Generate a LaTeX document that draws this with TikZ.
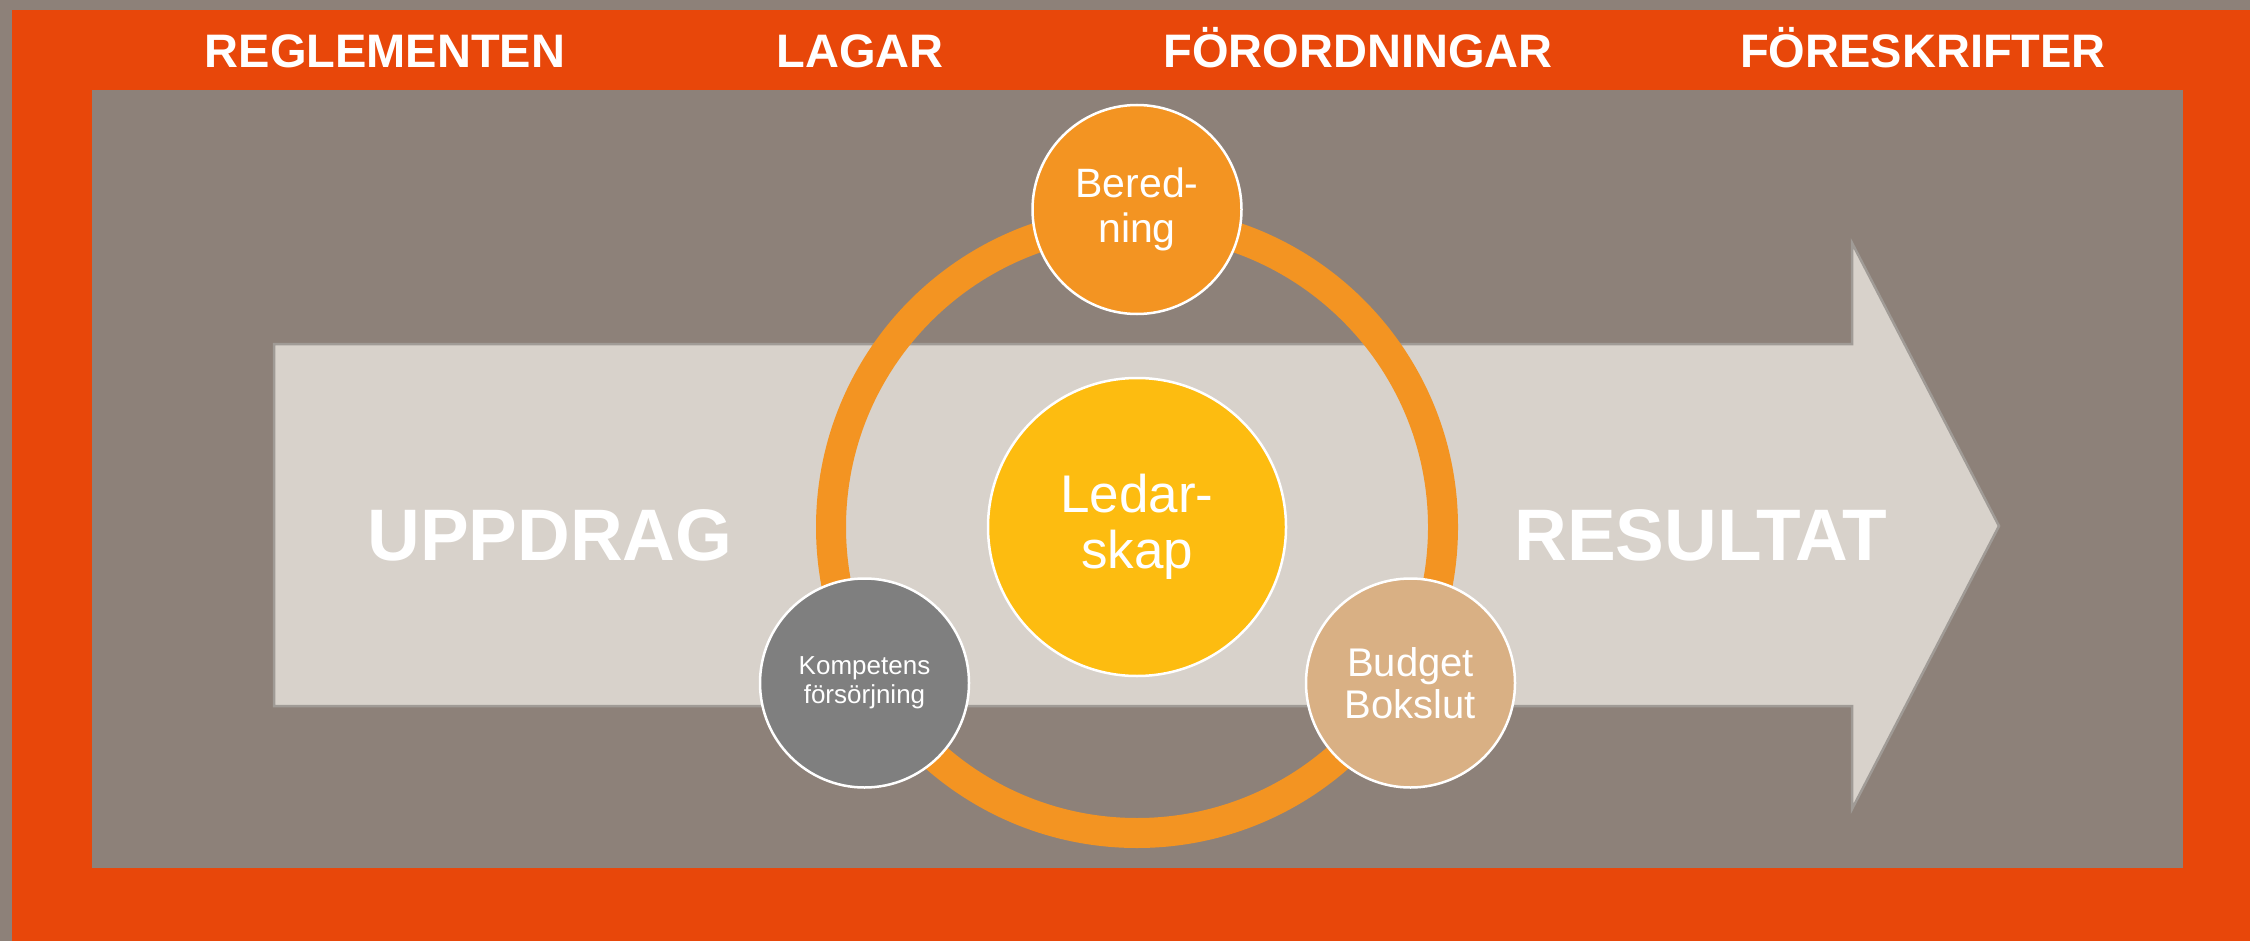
\documentclass[tikz,border=0pt]{standalone}
\usepackage{fontspec}
\setmainfont{Liberation Sans}
\definecolor{bggray}{RGB}{141,129,121}
\definecolor{frameorange}{RGB}{232,71,10}
\definecolor{arrowfill}{RGB}{216,210,203}
\definecolor{arrowline}{RGB}{160,155,150}
\definecolor{ringorange}{RGB}{243,148,34}
\definecolor{centeryellow}{RGB}{253,188,16}
\definecolor{budgettan}{RGB}{217,176,132}
\definecolor{kompgray}{RGB}{127,127,127}
\tikzset{
  headlabel/.style={text=white,font=\bfseries\fontsize{47}{52}\selectfont,inner sep=0pt,anchor=base},
  biglabel/.style={text=white,font=\bfseries\fontsize{73}{80}\selectfont,inner sep=0pt},
  bubble/.style={circle,draw=white,line width=2.5pt,minimum size=209pt,inner sep=0pt,text=white,align=center},
}
\begin{document}
\begin{tikzpicture}[x=1pt,y=-1pt]
\useasboundingbox (0,0) rectangle (2250,941);
\fill[bggray] (0,0) rectangle (2250,941);
\fill[frameorange] (12,10) rectangle (2250,941);
\fill[bggray] (92,90) rectangle (2183,868);
% arrow
\draw[fill=arrowfill,draw=arrowline,line width=2.5pt,line join=miter]
  (274,344) -- (1852,344) -- (1852,243) -- (1999,526) -- (1852,809) -- (1852,706) -- (274,706) -- cycle;
% headers
\node[headlabel] (regl) at (385,68) {REGLEMENTEN};
\node[headlabel] (lagar) at (860,68) {LAGAR};
\node[headlabel] (forord) at (1358,68) {FÖRORDNINGAR};
\node[headlabel] (foresk) at (1923,68) {FÖRESKRIFTER};
% big words
\node[biglabel] (uppdrag) at (550,535) {UPPDRAG};
\node[biglabel] (resultat) at (1701,535) {RESULTAT};
% ring
\coordinate (ringc) at (1137,527);
\draw[ringorange,line width=30pt] (ringc) circle[radius=306pt];
% circles
\node[bubble,fill=centeryellow,minimum size=298pt,font=\fontsize{53}{56}\selectfont] (ledar) at (ringc) {Ledar-\\skap};
\node[bubble,fill=ringorange,font=\fontsize{41}{45}\selectfont] (bered) at (1137,209.5) {Bered-\\ning};
\node[bubble,fill=kompgray,font=\fontsize{26}{29}\selectfont] (komp) at (864.5,683) {Kompetens\\försörjning};
\node[bubble,fill=budgettan,font=\fontsize{40}{42}\selectfont] (budget) at (1410.5,683) {Budget\\Bokslut};
\end{tikzpicture}
\end{document}
